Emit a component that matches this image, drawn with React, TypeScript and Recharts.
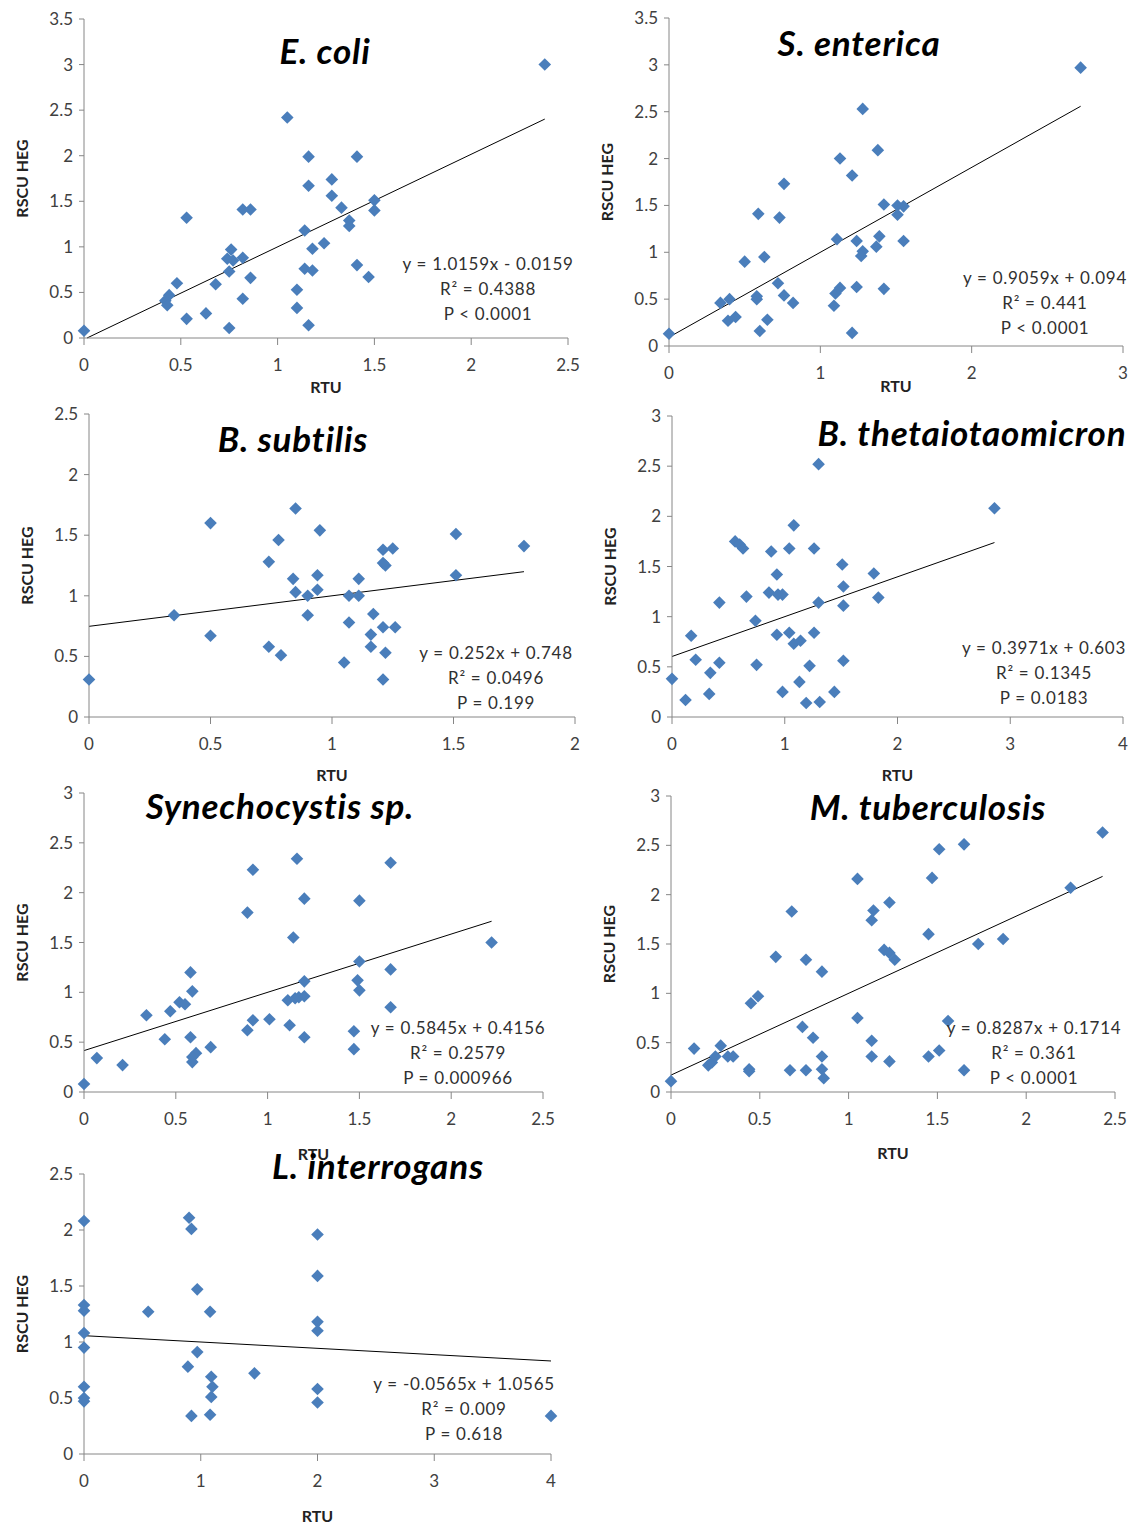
import React from "react";
import { ScatterChart, Scatter, XAxis, YAxis, ReferenceLine } from "recharts";

// RTU (x) vs RSCU HEG (y)
const ecoliPoints: [number, number][] = [
  [0, 0.08], [2.38, 3.0], [1.05, 2.42], [1.16, 1.99], [1.41, 1.99], [1.16, 1.67], [1.28, 1.74],
  [1.28, 1.56], [1.33, 1.43], [1.37, 1.29], [1.37, 1.23], [1.5, 1.51], [1.5, 1.4], [0.53, 1.32],
  [0.82, 1.41], [0.86, 1.41], [1.14, 1.18], [1.24, 1.04], [1.18, 0.98], [0.76, 0.97], [0.74, 0.87],
  [0.77, 0.85], [0.82, 0.88], [0.75, 0.73], [0.86, 0.66], [0.68, 0.59], [0.48, 0.6], [0.44, 0.47],
  [0.42, 0.41], [0.43, 0.36], [0.82, 0.43], [0.63, 0.27], [0.53, 0.21], [0.75, 0.11], [1.14, 0.76],
  [1.18, 0.74], [1.1, 0.53], [1.1, 0.33], [1.16, 0.14], [1.41, 0.8], [1.47, 0.67],
];

const entericaPoints: [number, number][] = [
  [0, 0.13], [2.72, 2.97], [1.28, 2.53], [1.38, 2.09], [1.13, 2.0], [1.21, 1.82], [0.76, 1.73],
  [0.59, 1.41], [0.73, 1.37], [1.42, 1.51], [1.51, 1.5], [1.55, 1.49], [1.51, 1.4], [1.11, 1.14],
  [1.24, 1.12], [1.39, 1.17], [1.37, 1.06], [1.55, 1.12], [1.28, 1.01], [1.27, 0.96], [0.5, 0.9],
  [0.63, 0.95], [0.72, 0.67], [0.76, 0.54], [0.82, 0.46], [0.58, 0.53], [0.58, 0.5], [0.34, 0.46],
  [0.4, 0.5], [0.39, 0.27], [0.44, 0.31], [0.6, 0.16], [0.65, 0.28], [1.09, 0.43], [1.1, 0.56],
  [1.13, 0.62], [1.24, 0.63], [1.42, 0.61], [1.21, 0.14],
];

const subtilisPoints: [number, number][] = [
  [0, 0.31], [0.35, 0.84], [0.5, 1.6], [0.5, 0.67], [0.85, 1.72], [0.95, 1.54], [0.78, 1.46],
  [0.74, 1.28], [0.84, 1.14], [0.85, 1.03], [0.94, 1.17], [0.94, 1.05], [0.9, 1.0], [0.9, 0.84],
  [1.07, 1.0], [1.11, 1.0], [1.11, 1.14], [1.07, 0.78], [1.17, 0.85], [1.16, 0.68], [1.16, 0.58],
  [1.21, 0.74], [1.26, 0.74], [1.22, 0.53], [1.21, 0.31], [1.05, 0.45], [0.74, 0.58], [0.79, 0.51],
  [1.21, 1.38], [1.25, 1.39], [1.21, 1.27], [1.22, 1.25], [1.51, 1.51], [1.51, 1.17], [1.79, 1.41],
];

const thetaPoints: [number, number][] = [
  [0, 0.38], [0.12, 0.17], [0.17, 0.81], [0.21, 0.57], [0.34, 0.44], [0.33, 0.23], [0.42, 0.54],
  [0.42, 1.14], [0.56, 1.75], [0.6, 1.72], [0.63, 1.68], [0.66, 1.2], [0.74, 0.96], [0.75, 0.52],
  [0.86, 1.24], [0.88, 1.65], [0.93, 1.42], [0.94, 1.22], [0.98, 1.22], [0.93, 0.82], [0.98, 0.25],
  [1.08, 1.91], [1.04, 1.68], [1.04, 0.84], [1.08, 0.73], [1.14, 0.76], [1.13, 0.35], [1.22, 0.51],
  [1.19, 0.14], [1.31, 0.15], [1.3, 2.52], [1.26, 1.68], [1.3, 1.14], [1.26, 0.84], [1.44, 0.25],
  [1.51, 1.52], [1.52, 1.3], [1.52, 1.11], [1.52, 0.56], [1.79, 1.43], [1.83, 1.19], [2.86, 2.08],
];

const synechoPoints: [number, number][] = [
  [0, 0.08], [0.07, 0.34], [0.21, 0.27], [0.34, 0.77], [0.44, 0.53], [0.47, 0.81], [0.52, 0.9],
  [0.55, 0.88], [0.58, 1.2], [0.59, 1.01], [0.58, 0.55], [0.59, 0.3], [0.61, 0.39], [0.59, 0.35],
  [0.69, 0.45], [0.89, 1.8], [0.92, 2.23], [0.89, 0.62], [0.92, 0.72], [1.01, 0.73], [1.12, 0.67],
  [1.11, 0.92], [1.14, 1.55], [1.16, 2.34], [1.2, 1.94], [1.15, 0.94], [1.17, 0.95], [1.2, 0.96],
  [1.2, 1.11], [1.2, 0.55], [1.47, 0.61], [1.47, 0.43], [1.5, 1.92], [1.5, 1.31], [1.49, 1.12],
  [1.5, 1.02], [1.67, 2.3], [1.67, 1.23], [1.67, 0.85], [2.22, 1.5],
];

const tuberculosisPoints: [number, number][] = [
  [0, 0.11], [0.13, 0.44], [0.21, 0.27], [0.23, 0.3], [0.25, 0.36], [0.28, 0.47], [0.32, 0.36],
  [0.35, 0.36], [0.44, 0.23], [0.44, 0.21], [0.45, 0.9], [0.49, 0.97], [0.59, 1.37], [0.68, 1.83],
  [0.67, 0.22], [0.74, 0.66], [0.76, 1.34], [0.76, 0.22], [0.8, 0.55], [0.85, 1.22], [0.85, 0.36],
  [0.85, 0.23], [0.86, 0.14], [1.05, 2.16], [1.05, 0.75], [1.13, 1.74], [1.14, 1.84], [1.13, 0.52],
  [1.13, 0.36], [1.2, 1.44], [1.23, 1.92], [1.23, 0.31], [1.23, 1.41], [1.26, 1.34], [1.45, 1.6],
  [1.47, 2.17], [1.51, 2.46], [1.45, 0.36], [1.51, 0.42], [1.56, 0.72], [1.65, 2.51], [1.65, 0.22],
  [1.73, 1.5], [1.87, 1.55], [2.25, 2.07], [2.43, 2.63],
];

const interrogansPoints: [number, number][] = [
  [0, 2.08], [0, 1.33], [0, 1.28], [0, 1.08], [0, 0.95], [0, 0.6], [0, 0.5], [0, 0.47],
  [0.55, 1.27], [0.9, 2.11], [0.92, 2.01], [0.97, 1.47], [0.97, 0.91], [0.89, 0.78], [0.92, 0.34],
  [1.08, 1.27], [1.09, 0.69], [1.1, 0.6], [1.09, 0.51], [1.08, 0.35], [1.46, 0.72], [2, 1.96],
  [2, 1.59], [2, 1.18], [2, 1.1], [2, 0.58], [2, 0.46], [4, 0.34],
];

const ticksHalfTo25 = [0, 0.5, 1, 1.5, 2, 2.5];
const ticksHalfTo35 = [0, 0.5, 1, 1.5, 2, 2.5, 3, 3.5];
const ticksHalfTo3 = [0, 0.5, 1, 1.5, 2, 2.5, 3];
const ticksHalfTo2 = [0, 0.5, 1, 1.5, 2];
const ticksOneTo3 = [0, 1, 2, 3];
const ticksOneTo4 = [0, 1, 2, 3, 4];

const FONT = "Lato, 'Open Sans', sans-serif";
const BLUE = "#4a7ebb";
const AXIS = "#868686";
const Y_AXIS_W = 80;
const X_AXIS_H = 70;
const TOP_PAD = 10;
const RIGHT_PAD = 24;

const panels = [
  {
    title: "E. coli", points: ecoliPoints, slope: 1.0159, intercept: -0.0159,
    stats: ["y = 1.0159x - 0.0159", "R² = 0.4388", "P < 0.0001"],
    xTicks: ticksHalfTo25, yTicks: ticksHalfTo35,
    plot: [84, 19, 568, 338], titleAt: [325, 64], statsAt: [488, 263], xTitleDy: 48, yTitleDy: 0,
  },
  {
    title: "S. enterica", points: entericaPoints, slope: 0.9059, intercept: 0.094,
    stats: ["y = 0.9059x + 0.094", "R² = 0.441", "P < 0.0001"],
    xTicks: ticksOneTo3, yTicks: ticksHalfTo35,
    plot: [669, 18, 1123, 346], titleAt: [859, 56], statsAt: [1045, 277], xTitleDy: 39, yTitleDy: 0,
  },
  {
    title: "B. subtilis", points: subtilisPoints, slope: 0.252, intercept: 0.748,
    stats: ["y = 0.252x + 0.748", "R² = 0.0496", "P = 0.199"],
    xTicks: ticksHalfTo2, yTicks: ticksHalfTo25,
    plot: [89, 414, 575, 717], titleAt: [293, 452], statsAt: [496, 652], xTitleDy: 57, yTitleDy: 0,
  },
  {
    title: "B. thetaiotaomicron", points: thetaPoints, slope: 0.3971, intercept: 0.603,
    stats: ["y = 0.3971x + 0.603", "R² = 0.1345", "P = 0.0183"],
    xTicks: ticksOneTo4, yTicks: ticksHalfTo3,
    plot: [672, 416, 1123, 717], titleAt: [972, 446], statsAt: [1044, 647], xTitleDy: 57, yTitleDy: 0,
  },
  {
    title: "Synechocystis sp.", points: synechoPoints, slope: 0.5845, intercept: 0.4156,
    stats: ["y = 0.5845x + 0.4156", "R² = 0.2579", "P = 0.000966"],
    xTicks: ticksHalfTo25, yTicks: ticksHalfTo3,
    plot: [84, 793, 543, 1092], titleAt: [280, 819], statsAt: [458, 1027], xTitleDy: 61, yTitleDy: 0,
  },
  {
    title: "M. tuberculosis", points: tuberculosisPoints, slope: 0.8287, intercept: 0.1714,
    stats: ["y = 0.8287x + 0.1714", "R² = 0.361", "P < 0.0001"],
    xTicks: ticksHalfTo25, yTicks: ticksHalfTo3,
    plot: [671, 796, 1115, 1092], titleAt: [928, 820], statsAt: [1034, 1027], xTitleDy: 60, yTitleDy: 0,
  },
  {
    title: "L. interrogans", points: interrogansPoints, slope: -0.0565, intercept: 1.0565,
    stats: ["y = -0.0565x + 1.0565", "R² = 0.009", "P = 0.618"],
    xTicks: ticksOneTo4, yTicks: ticksHalfTo25,
    plot: [84, 1174, 551, 1454], titleAt: [378, 1179], statsAt: [464, 1383], xTitleDy: 61, yTitleDy: 0,
  },
];

type PanelDef = (typeof panels)[number];

function Diamond(props: any) {
  const { cx, cy } = props;
  if (cx == null || cy == null) return null;
  const r = 6.3;
  return (
    <polygon
      points={`${cx},${cy - r} ${cx + r},${cy} ${cx},${cy + r} ${cx - r},${cy}`}
      fill={BLUE}
    />
  );
}

function Panel({ p }: { p: PanelDef }) {
  const [left, top, right, bottom] = p.plot;
  const w = right - left;
  const h = bottom - top;
  const data = p.points.map(([x, y]) => ({ x, y }));
  const maxX = Math.max(...p.points.map((d) => d[0]));
  // Excel clips the trendline at y = 0
  const startX = p.intercept < 0 ? -p.intercept / p.slope : 0;
  const tickStyle = { fill: "#404040", fontSize: 17, fontFamily: FONT };

  return (
    <div style={{ position: "absolute", left: left - Y_AXIS_W, top: top - TOP_PAD }}>
      <ScatterChart
        width={w + Y_AXIS_W + RIGHT_PAD}
        height={h + TOP_PAD + X_AXIS_H}
        margin={{ top: TOP_PAD, right: RIGHT_PAD, bottom: 0, left: 0 }}
      >
        <XAxis
          type="number"
          dataKey="x"
          domain={[0, p.xTicks[p.xTicks.length - 1]]}
          ticks={p.xTicks}
          height={X_AXIS_H}
          stroke={AXIS}
          tickSize={7}
          tickMargin={14}
          tick={tickStyle}
          label={(lp: any) => {
            const vb = lp.viewBox || {};
            return (
              <text
                x={vb.x + vb.width / 2}
                y={vb.y + p.xTitleDy}
                textAnchor="middle"
                dominantBaseline="central"
                fontFamily={FONT}
                fontWeight={700}
                fontSize={16}
                fill="#222"
              >
                RTU
              </text>
            );
          }}
        />
        <YAxis
          type="number"
          dataKey="y"
          domain={[0, p.yTicks[p.yTicks.length - 1]]}
          ticks={p.yTicks}
          width={Y_AXIS_W}
          stroke={AXIS}
          tickSize={5}
          tickMargin={6}
          tick={tickStyle}
          label={(lp: any) => {
            const vb = lp.viewBox || {};
            const cx = vb.x + vb.width - 63;
            const cy = vb.y + vb.height / 2 + p.yTitleDy;
            return (
              <text
                x={cx}
                y={cy}
                transform={`rotate(-90, ${cx}, ${cy})`}
                textAnchor="middle"
                dominantBaseline="central"
                fontFamily={FONT}
                fontWeight={700}
                fontSize={16}
                fill="#222"
              >
                RSCU HEG
              </text>
            );
          }}
        />
        <Scatter data={data} shape={<Diamond />} isAnimationActive={false} />
        <ReferenceLine
          segment={[
            { x: startX, y: p.slope * startX + p.intercept },
            { x: maxX, y: p.slope * maxX + p.intercept },
          ]}
          stroke="#000"
          strokeWidth={1}
          ifOverflow="visible"
        />
      </ScatterChart>
    </div>
  );
}

export default function App() {
  return (
    <div
      style={{
        position: "absolute",
        left: 0,
        top: 0,
        width: 1137,
        height: 1524,
        background: "#fff",
        fontFamily: FONT,
      }}
    >
      {panels.map((p) => (
        <Panel key={p.title} p={p} />
      ))}
      <svg
        width={1137}
        height={1524}
        style={{ position: "absolute", left: 0, top: 0, pointerEvents: "none" }}
      >
        {panels.map((p) => (
          <g key={p.title}>
            <text
              x={p.titleAt[0]}
              y={p.titleAt[1]}
              textAnchor="middle"
              fontFamily={FONT}
              fontWeight={700}
              fontStyle="italic"
              fontSize={35}
              letterSpacing={0.8}
              fill="#000"
            >
              {p.title}
            </text>
            {p.stats.map((line, i) => (
              <text
                key={line}
                x={p.statsAt[0]}
                y={p.statsAt[1] + i * 25}
                textAnchor="middle"
                dominantBaseline="central"
                fontFamily={FONT}
                fontSize={17}
                letterSpacing={0.7}
                fill="#303030"
              >
                {line}
              </text>
            ))}
          </g>
        ))}
      </svg>
    </div>
  );
}
